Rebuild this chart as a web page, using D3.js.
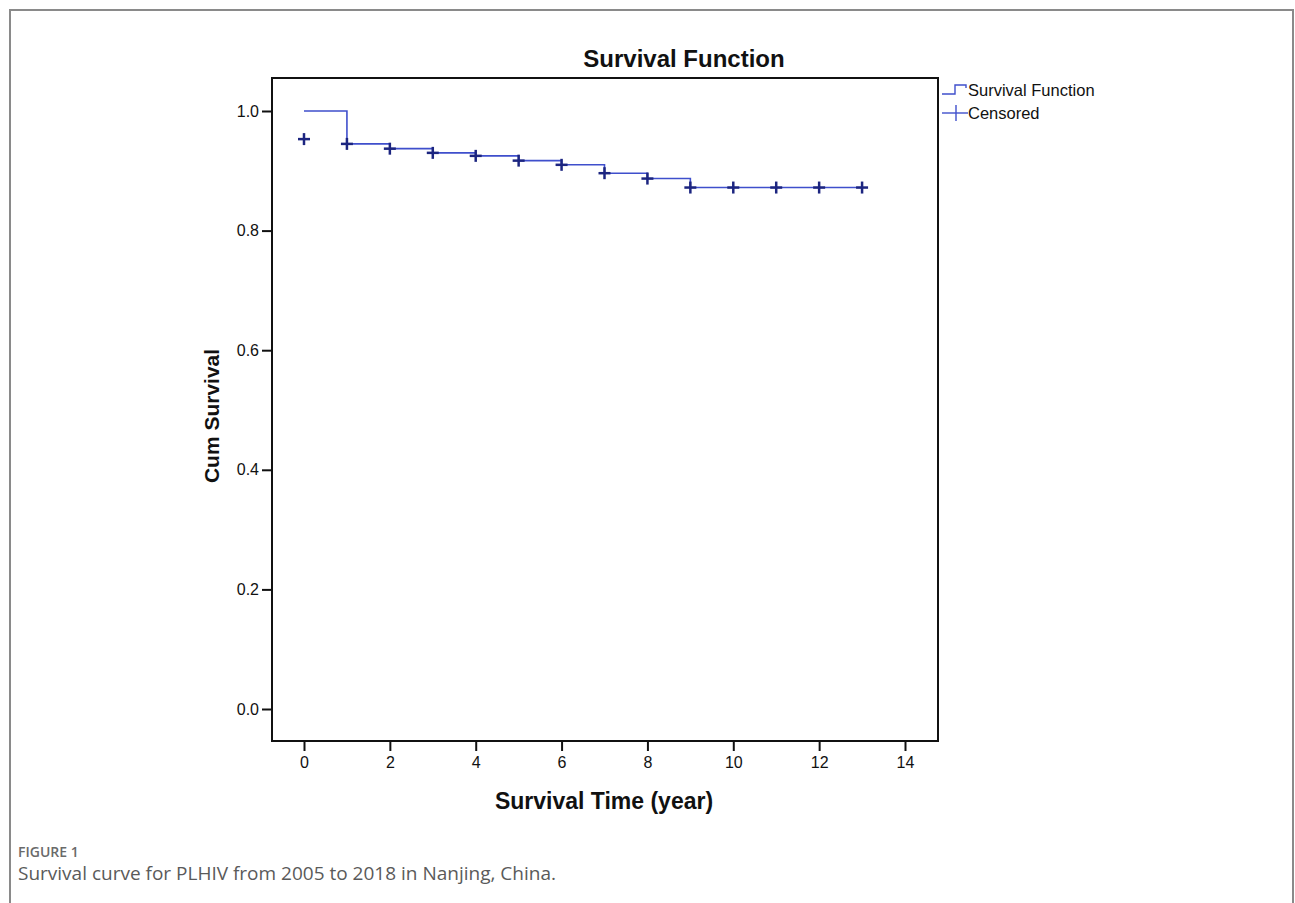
<!DOCTYPE html>
<html>
<head>
<meta charset="utf-8">
<script src="https://cdn.jsdelivr.net/npm/d3@7"></script>
<style>
  body { margin: 0; background: #fff; }
  svg { display: block; }
  .axis text { font-family: Arial, "Liberation Sans", sans-serif; font-size: 16px; fill: #111; }
  .axis line { stroke: #111; stroke-width: 2; }
  .axis path { display: none; }
</style>
</head>
<body>
<div id="chart"></div>
<script>
// step curve of the survival function (value holds from time until next time)
const stepTimes = [0, 1, 2, 3, 4, 5, 6, 7, 8, 9, 13];
const stepValues = [1.0, 0.945, 0.937, 0.930, 0.925, 0.917, 0.910, 0.896, 0.887, 0.872, 0.872];

// censored marks
const censorTimes = [0, 1, 2, 3, 4, 5, 6, 7, 8, 9, 10, 11, 12, 13];
const censorValues = [0.953, 0.945, 0.937, 0.930, 0.925, 0.917, 0.910, 0.896, 0.887, 0.872, 0.872, 0.872, 0.872, 0.872];

const xTicks = [0, 2, 4, 6, 8, 10, 12, 14];
const yTicks = [0.0, 0.2, 0.4, 0.6, 0.8, 1.0];

const legendLabels = ["Survival Function", "Censored"];

const LINE_COLOR = "#3f4fcc";
const MARK_COLOR = "#1c2580";
const FONT = "Arial, 'Liberation Sans', sans-serif";

const W = 1295, H = 903;
const frame = { left: 272, right: 938, top: 78, bottom: 741 };

const svg = d3.select("#chart").append("svg")
    .attr("width", W)
    .attr("height", H);

// outer figure border
svg.append("path")
    .attr("d", `M10,${H + 5} L10,10 L1293,10 L1293,${H + 5}`)
    .attr("fill", "none")
    .attr("stroke", "#8a8a8a")
    .attr("stroke-width", 2);

// Scales
const x = d3.scaleLinear().domain([0, 14]).range([304, 905]);
const y = d3.scaleLinear().domain([0, 1]).range([709, 111]);

// plot frame
svg.append("rect")
    .attr("x", frame.left)
    .attr("y", frame.top)
    .attr("width", frame.right - frame.left)
    .attr("height", frame.bottom - frame.top)
    .attr("fill", "none")
    .attr("stroke", "#111")
    .attr("stroke-width", 2);

// axes
svg.append("g")
    .attr("class", "axis y-axis")
    .attr("transform", `translate(${frame.left},0)`)
    .call(d3.axisLeft(y).tickValues(yTicks).tickFormat(d3.format(".1f")).tickSize(10).tickPadding(3));

svg.append("g")
    .attr("class", "axis x-axis")
    .attr("transform", `translate(0,${frame.bottom})`)
    .call(d3.axisBottom(x).tickValues(xTicks).tickFormat(d3.format("d")).tickSize(10).tickPadding(6));

// survival step line
const line = d3.line()
    .x((d, i) => x(stepTimes[i]))
    .y((d) => y(d))
    .curve(d3.curveStepAfter);

svg.append("path")
    .datum(stepValues)
    .attr("d", line)
    .attr("fill", "none")
    .attr("stroke", LINE_COLOR)
    .attr("stroke-width", 1.6);

// censored "+" marks
const marks = svg.append("g").attr("class", "censored")
    .selectAll("g")
    .data(censorValues)
    .join("g")
    .attr("transform", (d, i) => `translate(${x(censorTimes[i])},${y(d)})`);

marks.append("line")
    .attr("x1", -6).attr("x2", 6)
    .attr("stroke", MARK_COLOR).attr("stroke-width", 2.5);
marks.append("line")
    .attr("y1", -6).attr("y2", 6)
    .attr("stroke", MARK_COLOR).attr("stroke-width", 2.5);

// titles
svg.append("text")
    .text("Survival Function")
    .attr("x", 684)
    .attr("y", 67)
    .attr("text-anchor", "middle")
    .attr("font-family", FONT)
    .attr("font-weight", "bold")
    .attr("font-size", "24px")
    .attr("fill", "#111");

svg.append("text")
    .text("Cum Survival")
    .attr("transform", "translate(219,416) rotate(-90)")
    .attr("text-anchor", "middle")
    .attr("font-family", FONT)
    .attr("font-weight", "bold")
    .attr("font-size", "21px")
    .attr("fill", "#111");

svg.append("text")
    .text("Survival Time (year)")
    .attr("x", 604)
    .attr("y", 809)
    .attr("text-anchor", "middle")
    .attr("font-family", FONT)
    .attr("font-weight", "bold")
    .attr("font-size", "23px")
    .attr("fill", "#111");

// legend
const legend = svg.append("g").attr("transform", "translate(942,0)");
legend.append("path")
    .attr("d", "M0,94 L13,94 L13,85 L24,85 L24,88")
    .attr("fill", "none")
    .attr("stroke", LINE_COLOR)
    .attr("stroke-width", 1.4);
legend.append("line")
    .attr("x1", 0).attr("x2", 26).attr("y1", 113).attr("y2", 113)
    .attr("stroke", LINE_COLOR).attr("stroke-width", 1.4);
legend.append("line")
    .attr("x1", 14).attr("x2", 14).attr("y1", 105).attr("y2", 121)
    .attr("stroke", LINE_COLOR).attr("stroke-width", 1.4);

legend.selectAll("text.leg")
    .data(legendLabels)
    .join("text")
    .attr("class", "leg")
    .text((d) => d)
    .attr("x", 26)
    .attr("y", (d, i) => 96 + i * 23)
    .attr("font-family", FONT)
    .attr("font-size", "16.5px")
    .attr("fill", "#111");

// caption
svg.append("text")
    .text("FIGURE 1")
    .attr("x", 18)
    .attr("y", 857)
    .attr("font-family", "'Open Sans', sans-serif")
    .attr("font-weight", 600)
    .attr("font-size", "14px")
    .attr("fill", "#6a6a6a");

svg.append("text")
    .text("Survival curve for PLHIV from 2005 to 2018 in Nanjing, China.")
    .attr("x", 18)
    .attr("y", 880)
    .attr("font-family", "'Open Sans', sans-serif")
    .attr("font-size", "19px")
    .attr("fill", "#5a5a5a");
</script>
</body>
</html>
